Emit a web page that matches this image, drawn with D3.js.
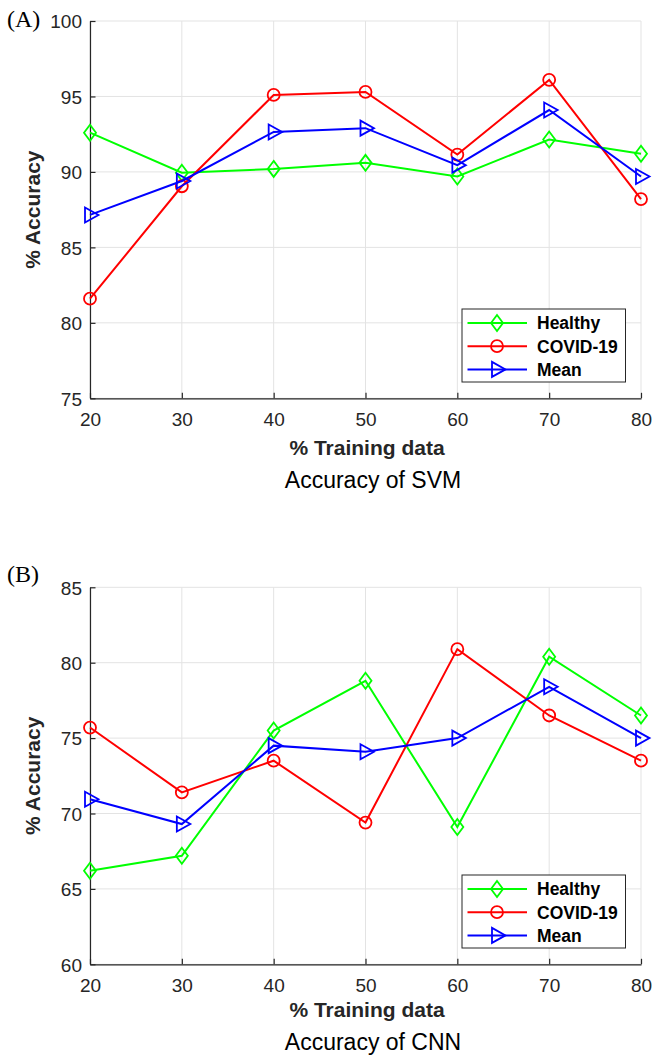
<!DOCTYPE html>
<html>
<head>
<meta charset="utf-8">
<script src="https://cdn.jsdelivr.net/npm/d3@7"></script>
<style>
html,body{margin:0;padding:0;background:#fff;}
svg{display:block;}
text{font-family:"Liberation Sans",Arial,Helvetica,sans-serif;}
</style>
</head>
<body>
<script>
// ---- data ----
const trainingPct = [20, 30, 40, 50, 60, 70, 80];
const seriesNames = ["Healthy", "COVID-19", "Mean"];
const svmHealthy = [92.6, 89.95, 90.2, 90.6, 89.7, 92.15, 91.2];
const svmCovid   = [81.6, 89.05, 95.1, 95.3, 91.15, 96.1, 88.2];
const svmMean    = [87.15, 89.4, 92.65, 92.9, 90.45, 94.1, 89.7];
const cnnHealthy = [66.2, 67.2, 75.5, 78.8, 69.1, 80.4, 76.5];
const cnnCovid   = [75.7, 71.4, 73.5, 69.4, 80.9, 76.5, 73.5];
const cnnMean    = [70.95, 69.3, 74.5, 74.1, 75.0, 78.4, 75.0];
const svmYTicks = [75, 80, 85, 90, 95, 100];
const cnnYTicks = [60, 65, 70, 75, 80, 85];
const xTicks = [20, 30, 40, 50, 60, 70, 80];

const colors = ["#00ff00", "#ff0000", "#0000ff"];
const markers = ["diamond", "circle", "triRight"];

const W = 653, H = 1063;
const svg = d3.select("body").append("svg").attr("width", W).attr("height", H);

function markerPath(type) {
  if (type === "diamond") return "M0,-8L6,0L0,8L-6,0Z";
  if (type === "triRight") return "M-5,-7.5L8.5,0L-5,7.5Z";
  return null;
}
function drawMarker(g, type, x, y, color) {
  if (type === "circle") {
    g.append("circle").attr("cx", x).attr("cy", y).attr("r", 6)
      .attr("fill", "none").attr("stroke", color).attr("stroke-width", 1.8);
  } else {
    g.append("path").attr("d", markerPath(type)).attr("transform", `translate(${x},${y})`)
      .attr("fill", "none").attr("stroke", color).attr("stroke-width", 1.8).attr("stroke-linejoin", "miter");
  }
}

function drawPanel(p) {
  const x = d3.scaleLinear().domain([20, 80]).range([90, 641]);
  const y = d3.scaleLinear().domain(p.yDomain).range([p.bottom, p.top]);
  const g = svg.append("g");

  // grid
  g.selectAll(".gx").data(xTicks).join("line")
    .attr("x1", d => x(d)).attr("x2", d => x(d)).attr("y1", p.top).attr("y2", p.bottom)
    .attr("stroke", "#e3e3e3").attr("stroke-width", 1);
  g.selectAll(".gy").data(p.yTicks).join("line")
    .attr("x1", 90).attr("x2", 641).attr("y1", d => y(d)).attr("y2", d => y(d))
    .attr("stroke", "#e3e3e3").attr("stroke-width", 1);

  // axes
  const xAxis = d3.axisBottom(x).tickValues(xTicks).tickSizeInner(-5.5).tickSizeOuter(0).tickPadding(17);
  const yAxis = d3.axisLeft(y).tickValues(p.yTicks).tickSizeInner(-5.5).tickSizeOuter(0).tickPadding(8);
  const gx = g.append("g").attr("transform", `translate(0,${p.bottom})`).call(xAxis);
  const gy = g.append("g").attr("transform", `translate(90,0)`).call(yAxis);
  [gx, gy].forEach(a => {
    a.attr("font-size", null).attr("font-family", null);
    a.select(".domain").attr("stroke", "#262626").attr("stroke-width", 1.2);
    a.selectAll(".tick line").attr("stroke", "#262626").attr("stroke-width", 1.2);
    a.selectAll(".tick text").attr("fill", "#262626")
      .style("font-size", "19px").style("font-family", "'Liberation Sans', Arial, sans-serif");
  });
  gx.selectAll(".tick text").attr("dy", "0.71em").attr("y", 14.5);
  gy.selectAll(".tick text").attr("dy", "0.36em");

  // series
  const line = d3.line().x((d, i) => x(trainingPct[i])).y(d => y(d));
  p.series.forEach((vals, si) => {
    g.append("path").datum(vals).attr("d", line).attr("fill", "none")
      .attr("stroke", colors[si]).attr("stroke-width", 2);
    vals.forEach((v, i) => drawMarker(g, markers[si], x(trainingPct[i]), y(v), colors[si]));
  });

  // legend
  const lg = g.append("g");
  lg.append("rect").attr("x", 462).attr("y", p.legTop).attr("width", 163.5).attr("height", 73)
    .attr("fill", "#fff").attr("stroke", "#262626").attr("stroke-width", 1);
  seriesNames.forEach((name, si) => {
    const ry = p.legTop + 14 + si * 23.2;
    lg.append("line").attr("x1", 467.5).attr("x2", 527).attr("y1", ry).attr("y2", ry)
      .attr("stroke", colors[si]).attr("stroke-width", 2);
    drawMarker(lg, markers[si], 497, ry, colors[si]);
    lg.append("text").attr("x", 537).attr("y", ry).attr("dy", "0.36em")
      .style("font-size", "17.5px").attr("font-weight", "bold").attr("fill", "#000").text(name);
  });

  // labels
  g.append("text").attr("x", 367).attr("y", p.xLabelY).attr("text-anchor", "middle")
    .style("font-size", "21px").attr("font-weight", "bold").attr("fill", "#262626").text("% Training data");
  g.append("text").attr("transform", `translate(40,${(p.top + p.bottom) / 2}) rotate(-90)`)
    .attr("text-anchor", "middle").style("font-size", "21px").attr("font-weight", "bold")
    .attr("fill", "#262626").text("% Accuracy");
  g.append("text").attr("x", 373).attr("y", p.titleY).attr("text-anchor", "middle")
    .style("font-size", "23px").attr("fill", "#000").text(p.title);
  g.append("text").attr("x", 7).attr("y", p.tagY)
    .style("font-family", "'Liberation Serif', 'Times New Roman', serif").style("font-size", "24px")
    .attr("fill", "#000").text(p.tag);
}

drawPanel({
  yDomain: [75, 100], yTicks: svmYTicks, top: 21, bottom: 398.3,
  series: [svmHealthy, svmCovid, svmMean],
  legTop: 309, xLabelY: 455, titleY: 487.7, title: "Accuracy of SVM", tag: "(A)", tagY: 27
});
drawPanel({
  yDomain: [60, 85], yTicks: cnnYTicks, top: 587.3, bottom: 964.3,
  series: [cnnHealthy, cnnCovid, cnnMean],
  legTop: 875, xLabelY: 1016.7, titleY: 1050, title: "Accuracy of CNN", tag: "(B)", tagY: 582
});
</script>
</body>
</html>
